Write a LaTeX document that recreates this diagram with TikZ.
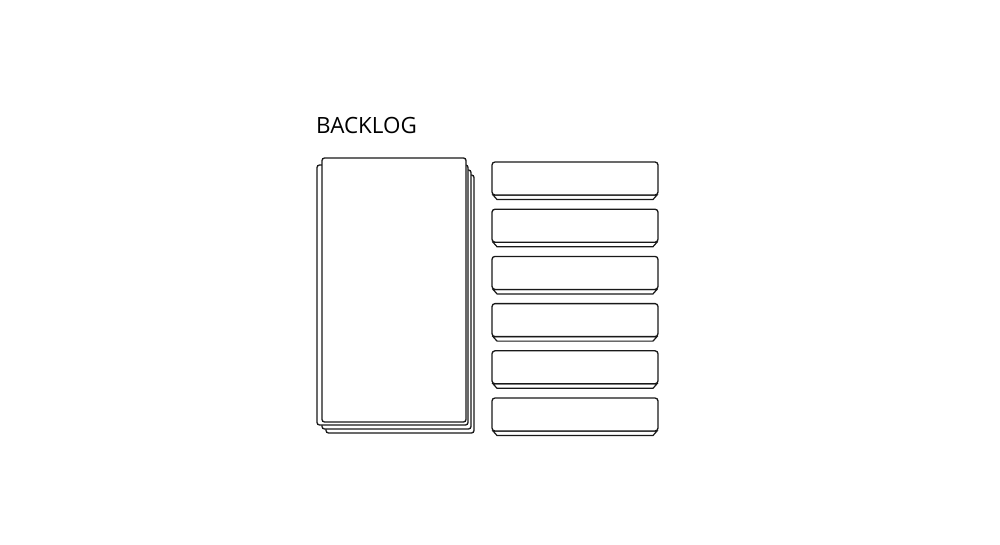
\documentclass[tikz,border=0pt]{standalone}
\usepackage{fontspec}
\setmainfont{Open Sans}
\begin{document}
\begin{tikzpicture}[x=1pt,y=-1pt,
  card/.style={draw=black!90,fill=white,line width=1.3pt,rounded corners=2.5pt},
  barbox/.style={draw=black!90,fill=white,line width=1.3pt,rounded corners=3pt},
  barbase/.style={draw=black!90,fill=white,line width=1.2pt,line join=miter},
  lbl/.style={font=\fontsize{22.4pt}{24pt}\selectfont,anchor=base west,inner sep=0pt}]
\useasboundingbox[fill=white] (0,0) rectangle (1000,545);
% title
\node[lbl] (title) at (316,134) {BACKLOG};
% backlog stack
\draw[card] (326,175) rectangle (474,433);
\draw[card] (322,170) rectangle (471,429);
\draw[card] (317,165) rectangle (468,425);
\draw[card] (322,158) rectangle (466,422);
\node[inner sep=0pt,minimum width=144pt,minimum height=264pt] (backlog) at (394,290) {};
% bars
\foreach \i in {0,...,5}{
  \pgfmathsetmacro{\t}{162+47.2*\i}
  \pgfmathsetmacro{\b}{\t+33}
  \pgfmathsetmacro{\bb}{\t+37.5}
  \draw[barbase] (493,\b) -- (497,\bb) -- (653,\bb) -- (657,\b) -- cycle;
  \draw[barbox] (492,\t) rectangle (658,\b);
  \node[inner sep=0pt,minimum width=166pt,minimum height=33pt] (bar\i) at (575,\t+16.5) {};
}
\end{tikzpicture}
\end{document}
